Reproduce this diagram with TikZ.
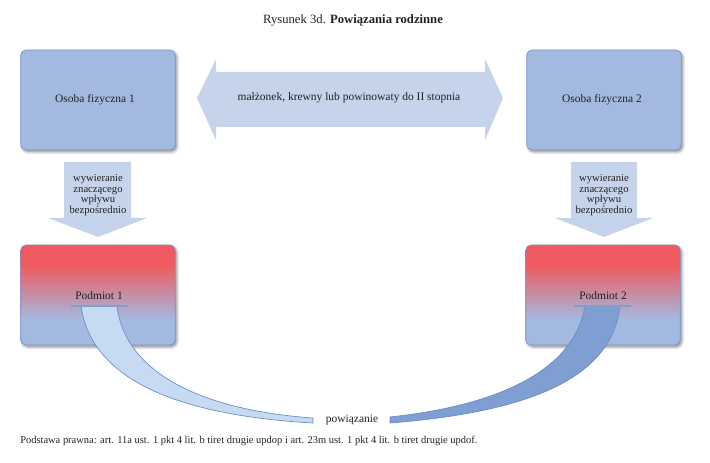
\documentclass[tikz,border=0pt]{standalone}
\usepackage{fontspec}
\setmainfont{Liberation Serif}
\usetikzlibrary{shadows.blur}
\definecolor{boxfill}{HTML}{A4B9E0}
\definecolor{boxdraw}{HTML}{7E98C8}
\definecolor{arrowfill}{HTML}{C5D4EB}
\definecolor{bandlight}{HTML}{C6DAF2}
\definecolor{banddark}{HTML}{7F9FD3}
\definecolor{bandedge}{HTML}{6A8BC8}
\definecolor{podred}{HTML}{EF5A60}
\definecolor{txt}{HTML}{222222}
\pgfdeclareverticalshading{podshade}{100bp}{color(0bp)=(boxfill); color(38bp)=(boxfill); color(65bp)=(podred); color(100bp)=(podred)}
\tikzset{
  mainbox/.style={draw=boxdraw, line width=0.6pt, rounded corners=4pt, minimum width=116pt, minimum height=75pt,
    blur shadow={shadow xshift=1.2pt, shadow yshift=-1.5pt, shadow blur radius=2pt, shadow opacity=45}},
  osoba/.style={mainbox, fill=boxfill},
  podmiot/.style={mainbox, shading=podshade},
  arrowshape/.style={fill=arrowfill},
  lbl/.style={font=\fontsize{8.6pt}{9.5pt}\selectfont, text=txt, inner sep=0pt},
  arrowlbl/.style={lbl, align=center, font=\fontsize{8pt}{7.9pt}\selectfont},
  bandl/.style={fill=bandlight, draw=bandedge, line width=0.5pt},
  bandd/.style={fill=banddark, draw=bandedge, line width=0.5pt},
  uline/.style={draw=banddark, line width=1pt}
}
\begin{document}
\begin{tikzpicture}[x=0.75pt,y=-0.75pt]
\useasboundingbox (0,0) rectangle (710,463);
% title
\node[lbl, font=\fontsize{9.5pt}{10.5pt}\selectfont] (title) at (353,20) {Rysunek 3d. \textbf{Powiązania rodzinne}};
% top boxes
\node[osoba] (o1) at (98,100) {};
\node[lbl] (o1t) at (95,100) {Osoba fizyczna 1};
\node[osoba] (o2) at (604,100) {};
\node[lbl] (o2t) at (602,100) {Osoba fizyczna 2};
% double arrow
\fill[arrowshape] (197,98) -- (216,59) -- (216,72) -- (485,72) -- (485,59) -- (503,98) -- (485,140) -- (485,127) -- (216,127) -- (216,140) -- cycle;
\node[lbl] (rel) at (349,98) {małżonek, krewny lub powinowaty do II stopnia};
% down arrows
\fill[arrowshape] (64,162) -- (131,162) -- (131,218) -- (147,218) -- (98,237) -- (48,218) -- (64,218) -- cycle;
\node[arrowlbl] (w1) at (98,195) {wywieranie\\znaczącego\\wpływu\\bezpośrednio};
\fill[arrowshape] (571,162) -- (637,162) -- (637,218) -- (653,218) -- (604,237) -- (555,218) -- (571,218) -- cycle;
\node[arrowlbl] (w2) at (604,195) {wywieranie\\znaczącego\\wpływu\\bezpośrednio};
% podmiot boxes
\node[podmiot] (p1) at (98,295) {};
\node[podmiot] (p2) at (603,295) {};
\node[lbl] (p1t) at (99,296) {Podmiot 1};
\node[lbl] (p2t) at (603,296) {Podmiot 2};
% label
\node[lbl] (pow) at (352,420) {powiązanie};
% bands
\path[bandl] (81,306) .. controls (92,385) and (190,416) .. (313,423) -- (313,418) .. controls (200,410) and (125,372) .. (117,306) -- cycle;
\path[bandd] (620,306) .. controls (612,378) and (530,412) .. (390,423) -- (390,417) .. controls (510,404) and (575,365) .. (585,306) -- cycle;
\draw[uline] (71,306) -- (128,306);
\draw[uline] (574,306) -- (631,306);
% footer
\node[lbl, anchor=west, font=\fontsize{7.85pt}{9pt}\selectfont] (foot) at (20,441) {Podstawa prawna: art. 11a ust. 1 pkt 4 lit. b tiret drugie updop i art. 23m ust. 1 pkt 4 lit. b tiret drugie updof.};
\end{tikzpicture}
\end{document}
